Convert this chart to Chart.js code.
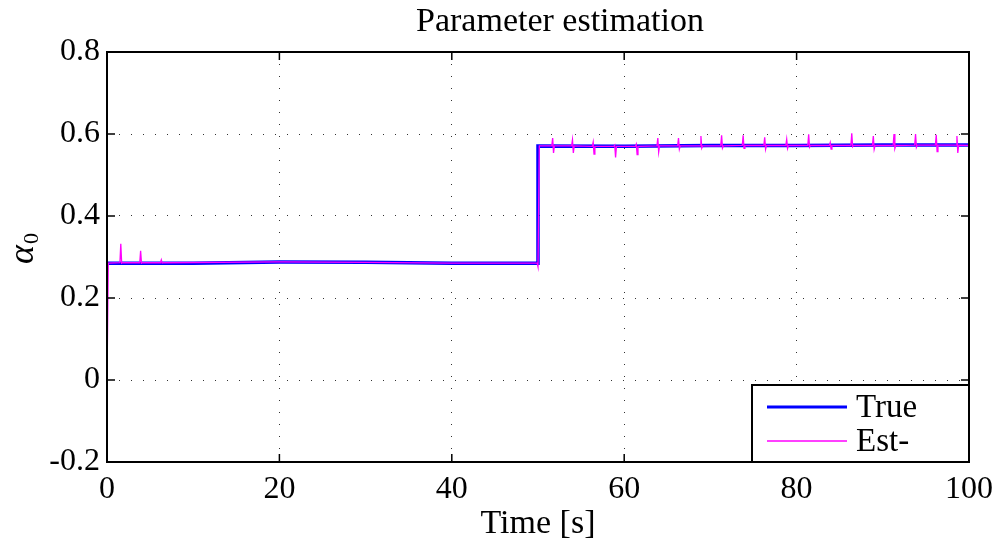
<!DOCTYPE html>
<html>
<head>
<meta charset="utf-8">
<title>Parameter estimation</title>
<script src="https://cdn.jsdelivr.net/npm/chart.js@4.4.1/dist/chart.umd.min.js"></script>
<style>
  html, body { margin: 0; padding: 0; background: #fff; }
  #chart { display: block; }
</style>
</head>
<body>
<canvas id="chart" width="1001" height="548"></canvas>
<script>
// --- data -----------------------------------------------------------------
const xTickValues = [0, 20, 40, 60, 80, 100];
const xTickLabels = ['0', '20', '40', '60', '80', '100'];
const yTickValues = [-0.2, 0, 0.2, 0.4, 0.6, 0.8];
const yTickLabels = ['-0.2', '0', '0.2', '0.4', '0.6', '0.8'];

// true parameter (blue)
const trueTime  = [0, 10, 20, 30, 40, 50, 50, 60, 70, 80, 90, 100];
const trueAlpha = [0.285, 0.285, 0.288, 0.287, 0.285, 0.285, 0.571, 0.570, 0.572, 0.572, 0.573, 0.573];

// estimate (magenta): slow part + short spikes
const estAnchorTime  = [0, 0.15, 20, 30, 40, 49.9, 50.0, 50.15, 100];
const estAnchorAlpha = [0, 0.285, 0.288, 0.287, 0.285, 0.285, 0.276, 0.571, 0.572];

const spikeTime = [1.6, 3.9, 6.3, 51.7, 54.0, 56.4, 58.9, 61.4, 63.9, 66.3, 68.9, 71.3, 73.8,
                   76.3, 78.85, 81.4, 83.9, 86.4, 88.9, 91.3, 93.8, 96.2, 98.6];
const spikeBase = [0.286, 0.286, 0.286, 0.571, 0.571, 0.570, 0.570, 0.570, 0.571, 0.571, 0.571, 0.571, 0.572,
                   0.572, 0.572, 0.572, 0.572, 0.572, 0.572, 0.572, 0.573, 0.573, 0.573];
const spikeHigh = [0.332, 0.315, 0.293, 0.590, 0.586, 0.580, 0.573, 0.575, 0.590, 0.590, 0.595, 0.597, 0.597,
                   0.592, 0.587, 0.599, 0.579, 0.602, 0.595, 0.600, 0.600, 0.598, 0.595];
const spikeLow  = [0.285, 0.285, 0.285, 0.554, 0.554, 0.551, 0.543, 0.550, 0.556, 0.563, 0.566, 0.566, 0.565,
                   0.563, 0.565, 0.568, 0.563, 0.569, 0.563, 0.565, 0.568, 0.557, 0.554];

const seriesLabels = ['True', 'Est-'];
const seriesColors = ['#0000ff', '#ff00ff'];

// --- build point lists ----------------------------------------------------
const truePoints = trueTime.map((t, i) => ({ x: t, y: trueAlpha[i] }));
const estPoints = estAnchorTime.map((t, i) => ({ x: t, y: estAnchorAlpha[i] }));
spikeTime.forEach((t, i) => {
  estPoints.push({ x: t - 0.1, y: spikeBase[i] }, { x: t, y: spikeHigh[i] },
                 { x: t + 0.1, y: spikeLow[i] }, { x: t + 0.2, y: spikeBase[i] });
});
estPoints.sort((a, b) => a.x - b.x);

const FONT = '"Liberation Serif", "Times New Roman", serif';

// frame, inward ticks, legend, title and y label (Matlab look)
const matlabDecor = {
  id: 'matlabDecor',
  afterDatasetsDraw(chart){
    const { ctx, chartArea: a, scales: { x, y } } = chart;
    ctx.save();
    ctx.strokeStyle = '#000';
    ctx.lineWidth = 1.5;
    ctx.beginPath();
    xTickValues.forEach(v => {
      const px = x.getPixelForValue(v);
      ctx.moveTo(px, a.bottom); ctx.lineTo(px, a.bottom - 8);
      ctx.moveTo(px, a.top); ctx.lineTo(px, a.top + 8);
    });
    yTickValues.forEach(v => {
      const py = y.getPixelForValue(v);
      ctx.moveTo(a.left, py); ctx.lineTo(a.left + 8, py);
      ctx.moveTo(a.right, py); ctx.lineTo(a.right - 8, py);
    });
    ctx.stroke();
    ctx.lineWidth = 2;
    ctx.strokeRect(a.left, a.top, a.width, a.height);

    // legend box, lower right corner
    const w = 217, h = 77;
    const lx = a.right - w, ly = a.bottom - h;
    ctx.fillStyle = '#fff';
    ctx.fillRect(lx, ly, w, h);
    ctx.lineWidth = 2;
    ctx.strokeRect(lx, ly, w, h);
    const rows = [ly + 22, ly + 56];
    const widths = [3, 1.5];
    ctx.font = `33px ${FONT}`;
    ctx.textBaseline = 'middle';
    ctx.textAlign = 'left';
    seriesLabels.forEach((lab, i) => {
      ctx.strokeStyle = seriesColors[i];
      ctx.lineWidth = widths[i];
      ctx.beginPath();
      ctx.moveTo(lx + 15, rows[i]); ctx.lineTo(lx + 95, rows[i]);
      ctx.stroke();
      ctx.fillStyle = '#000';
      ctx.fillText(lab, lx + 104, rows[i] + 1);
    });
    ctx.restore();
  },
  afterDraw(chart){
    const { ctx } = chart;
    ctx.save();
    ctx.fillStyle = '#000';
    ctx.textBaseline = 'alphabetic';
    ctx.textAlign = 'center';
    ctx.font = `34px ${FONT}`;
    ctx.fillText('Parameter estimation', 560, 31);

    // y label: alpha with subscript 0, rotated
    ctx.translate(33, 264);
    ctx.rotate(-Math.PI / 2);
    ctx.textAlign = 'left';
    ctx.font = `italic 36px ${FONT}`;
    ctx.fillText('α', 0, 0);
    const aw = ctx.measureText('α').width;
    ctx.font = `22px ${FONT}`;
    ctx.fillText('0', aw + 1, 5);
    ctx.restore();
  }
};

new Chart(document.getElementById('chart'), {
  type: 'line',
  data: {
    datasets: [
      { label: seriesLabels[0], data: truePoints, borderColor: seriesColors[0], borderWidth: 3.5,
        pointRadius: 0, tension: 0, fill: false, order: 1 },
      { label: seriesLabels[1], data: estPoints, borderColor: seriesColors[1], borderWidth: 1.3,
        pointRadius: 0, tension: 0, fill: false, order: 0 }
    ]
  },
  options: {
    responsive: false,
    animation: false,
    devicePixelRatio: 1,
    layout: { padding: { top: 52, right: 32, left: 0, bottom: 0 } },
    plugins: { legend: { display: false }, title: { display: false }, tooltip: { enabled: false } },
    scales: {
      x: {
        type: 'linear', min: 0, max: 100,
        afterBuildTicks: s => { s.ticks = xTickValues.map(v => ({ value: v })); },
        afterFit: s => { s.height = 86; },
        ticks: { callback: (v, i) => xTickLabels[i], color: '#000', padding: 8, maxRotation: 0,
                 font: { family: FONT, size: 32 } },
        grid: { color: '#333', lineWidth: 1, drawTicks: false },
        border: { display: false, dash: [1, 11] },
        title: { display: true, text: 'Time [s]', color: '#000', padding: { top: 0, bottom: 4 },
                 font: { family: FONT, size: 34 } }
      },
      y: {
        type: 'linear', min: -0.2, max: 0.8,
        afterBuildTicks: s => { s.ticks = yTickValues.map(v => ({ value: v })); },
        afterFit: s => { s.width = 107; },
        ticks: { callback: (v, i) => yTickLabels[i], color: '#000', padding: 7,
                 font: { family: FONT, size: 32 } },
        grid: { color: '#333', lineWidth: 1, drawTicks: false },
        border: { display: false, dash: [1, 11] }
      }
    }
  },
  plugins: [matlabDecor]
});
</script>
</body>
</html>
